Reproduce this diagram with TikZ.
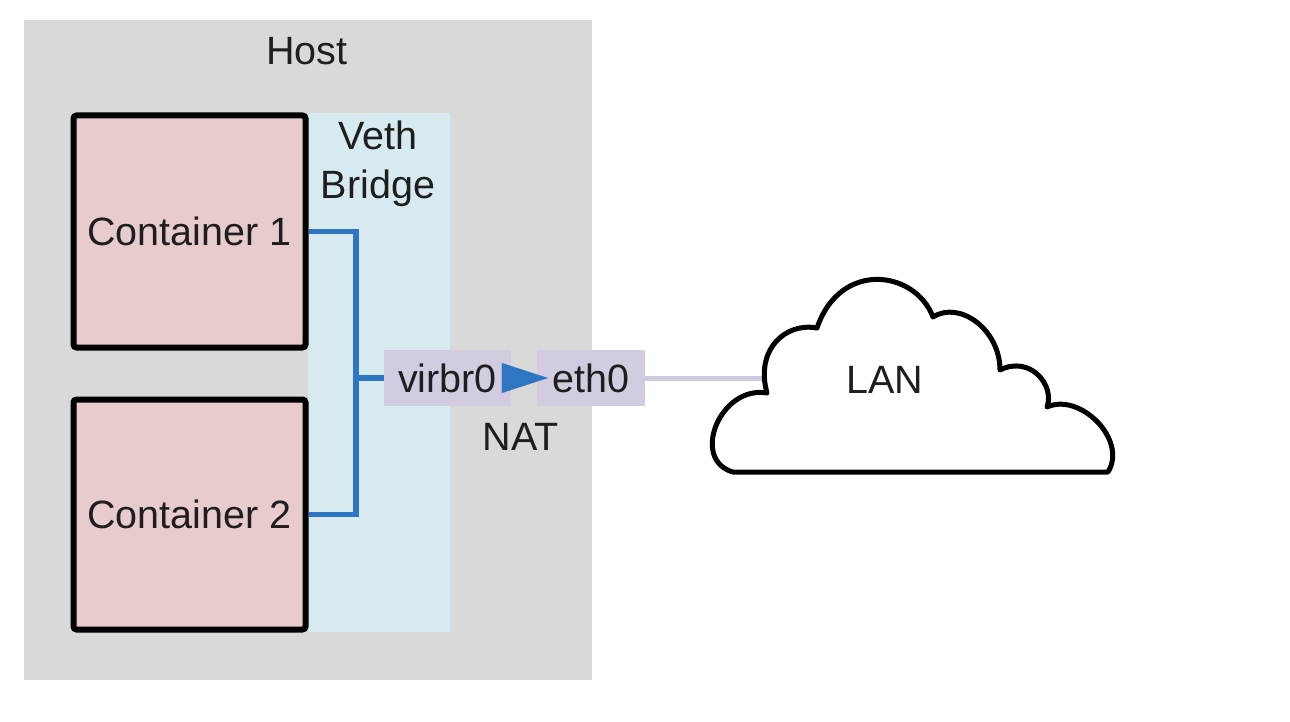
\documentclass[tikz,border=0pt]{standalone}
\usepackage{fontspec}
\setmainfont{Liberation Sans}
\usetikzlibrary{arrows.meta}
\definecolor{hostgray}{RGB}{217,217,217}
\definecolor{vethblue}{RGB}{215,234,240}
\definecolor{contpink}{RGB}{232,204,205}
\definecolor{ifacelav}{RGB}{211,204,224}
\definecolor{linkblue}{RGB}{46,117,194}
\definecolor{lanlav}{RGB}{207,201,222}
\definecolor{textc}{RGB}{30,30,30}
\tikzset{
  lbl/.style={font=\fontsize{39.5}{49}\selectfont, inner sep=0pt, text=textc},
  region/.style={draw=none, inner sep=0pt, anchor=center},
  container/.style={lbl, draw=black, line width=6pt, fill=contpink, rounded corners=3pt, minimum width=232pt},
  iface/.style={lbl, fill=ifacelav, minimum height=56pt},
  blueline/.style={draw=linkblue, line width=5.5pt, line join=miter},
  lanline/.style={draw=lanlav, line width=5pt},
  cloudline/.style={draw=black, line width=5pt, line join=round, fill=white}
}
\begin{document}
\begin{tikzpicture}[x=1pt,y=-1pt]
\useasboundingbox[fill=white] (0,0) rectangle (1290,722);
% regions
\node[region, fill=hostgray, minimum width=568pt, minimum height=660pt] (host) at (308,350) {};
\node[region, fill=vethblue, minimum width=142pt, minimum height=519pt] (veth) at (379,372.5) {};
\node[lbl] (hostlbl) at (307,51) {Host};
\node[lbl, align=center, anchor=north] (vethlbl) at (378,120.5) {Veth\\Bridge};
% containers
\node[container, minimum height=232pt] (c1) at (189.5,231.5) {Container 1};
\node[container, minimum height=230pt] (c2) at (189.5,514.5) {Container 2};
% interfaces
\node[iface, minimum width=127pt] (virbr0) at (447.5,378) {virbr0};
\node[iface, minimum width=108pt] (eth0) at (591,378) {eth0};
\node[lbl] (nat) at (521,437) {NAT};
% bridge wiring
\coordinate (bus) at (356,378);
\draw[blueline] (c1.east) -| (bus) |- (c2.east);
\draw[blueline] (bus) -- (virbr0.west);
\draw[draw=linkblue, line width=0.1pt, -{Triangle[length=46pt,width=30pt,fill=linkblue]}, shorten >=-11pt] (virbr0.east) -- (eth0.west);
% LAN link
\coordinate (cloudL) at (768,378);
\draw[lanline] (eth0.east) -- (cloudL);
% cloud
\draw[cloudline] (733,472) -- (1108,472)
  .. controls (1128,440) and (1080,392) .. (1047,407)
  .. controls (1055,385) and (1030,355) .. (1000,370)
  .. controls (1000,330) and (960,300) .. (933,317)
  .. controls (915,270) and (840,260) .. (817,328)
  .. controls (785,322) and (755,350) .. (767,393)
  .. controls (720,385) and (690,460) .. (733,472) -- cycle;
\node[lbl] (lan) at (885,380) {LAN};
\end{tikzpicture}
\end{document}
